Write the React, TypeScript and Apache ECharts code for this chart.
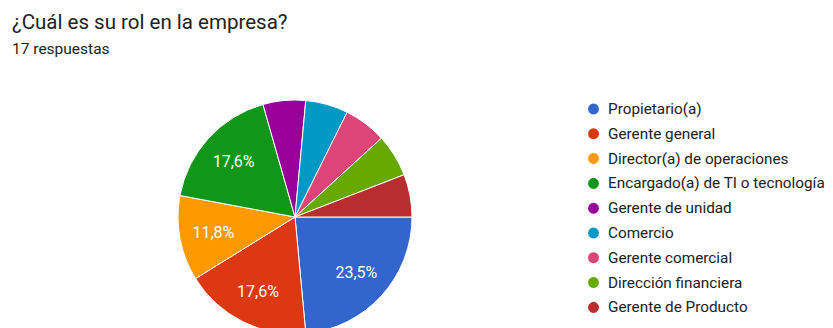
import React, { useEffect, useRef } from "react";
import * as echarts from "echarts";

const titleText = "¿Cuál es su rol en la empresa?";
const subtitleText = "17 respuestas";
const categories = [
  "Propietario(a)",
  "Gerente general",
  "Director(a) de operaciones",
  "Encargado(a) de TI o tecnología",
  "Gerente de unidad",
  "Comercio",
  "Gerente comercial",
  "Dirección financiera",
  "Gerente de Producto",
];
const counts = [4, 3, 2, 3, 1, 1, 1, 1, 1];
const colors = [
  "#3366cc",
  "#dc3912",
  "#ff9900",
  "#109618",
  "#990099",
  "#0099c6",
  "#dd4477",
  "#66aa00",
  "#b82e2e",
];

export default function App() {
  const ref = useRef<HTMLDivElement>(null);
  useEffect(() => {
    document.body.style.margin = "0";
    if (!ref.current) return;
    const chart = echarts.init(ref.current, undefined, { renderer: "svg" });
    const total = counts.reduce((a, b) => a + b, 0);
    const data = categories.map((name, i) => ({
      name,
      value: counts[i],
      itemStyle: { color: colors[i] },
    }));
    chart.setOption({
      animation: false,
      color: colors,
      title: [
        {
          text: titleText,
          left: 12,
          top: 11,
          padding: 0,
          textStyle: {
            fontFamily: "Roboto",
            fontSize: 20.5,
            fontWeight: "normal",
            color: "#202124",
          },
        },
        {
          text: subtitleText,
          left: 12,
          top: 41,
          padding: 0,
          textStyle: {
            fontFamily: "Roboto",
            fontSize: 15.5,
            fontWeight: "normal",
            color: "#202124",
          },
        },
      ],
      legend: {
        orient: "vertical",
        left: 586,
        top: 101.5,
        padding: 0,
        height: 226,
        icon: "circle",
        itemWidth: 13,
        itemHeight: 13,
        itemGap: 9.8,
        data: categories,
        textStyle: {
          fontFamily: "Roboto",
          fontSize: 15.3,
          color: "#202124",
          padding: [0, 0, 0, 3],
        },
      },
      series: [
        {
          type: "pie",
          center: [295, 217],
          radius: [0, 117],
          startAngle: 0,
          clockwise: true,
          data,
          silent: true,
          label: { show: false },
          labelLine: { show: false },
          itemStyle: { borderColor: "#ffffff", borderWidth: 1 },
        },
        {
          type: "pie",
          center: [295, 217],
          radius: [0, 160],
          startAngle: 0,
          clockwise: true,
          data: categories.map((name, i) => ({ name, value: counts[i] })),
          silent: true,
          legendHoverLink: false,
          itemStyle: { color: "rgba(0,0,0,0)", borderWidth: 0 },
          label: {
            show: true,
            position: "inside",
            fontFamily: "Roboto",
            fontSize: 16,
            color: "#ffffff",
            formatter: (p: any) => {
              const pct = (p.value / total) * 100;
              if (pct < 10) return "";
              return pct.toFixed(1).replace(".", ",") + "%";
            },
          },
          labelLine: { show: false },
        },
      ],
    });
    return () => chart.dispose();
  }, []);
  return <div ref={ref} style={{ width: 833, height: 328 }} />;
}
